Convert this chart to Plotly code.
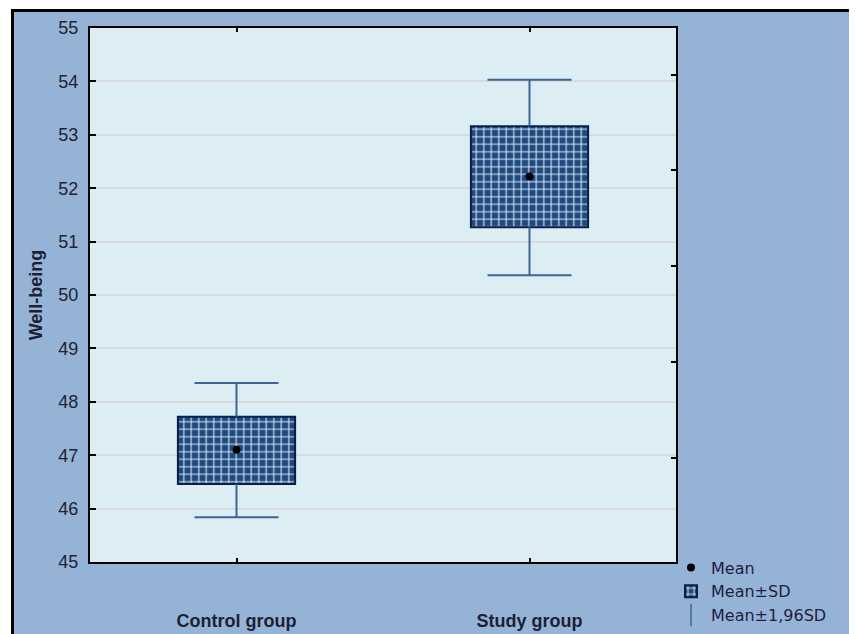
import plotly.graph_objects as go

# ---- data ----
groups = ["Control group", "Study group"]
mean_vals = [47.10, 52.22]
sd_low = [46.46, 51.27]
sd_high = [47.72, 53.16]
ci_low = [45.84, 50.37]
ci_high = [48.35, 54.03]
y_ticks = [45, 46, 47, 48, 49, 50, 51, 52, 53, 54, 55]
right_ticks = [1, 2, 3, 4, 5]

# ---- layout geometry (pixels); page body has an 8px margin ----
OFF = 8
W, H = 857 - OFF, 634 - OFF
L, T = 90 - OFF, 28 - OFF
R = W - (676 - OFF)
B = H - (562.5 - OFF)
PW, PH = W - L - R, H - T - B


def px(x):
    """reference-image x pixel -> paper coordinate"""
    return (x - OFF - L) / PW


def py(y):
    """reference-image y pixel -> paper coordinate"""
    return (H - B - (y - OFF)) / PH


FONT = "Liberation Sans, Arial, sans-serif"
LFONT = "DejaVu Sans, Verdana, sans-serif"
NAVY = "#1E4A80"
WHISK = "#3D6496"

fig = go.Figure()

# Mean ± SD boxes
fig.add_trace(go.Bar(
    x=groups,
    base=sd_low,
    y=[h - l for h, l in zip(sd_high, sd_low)],
    width=0.4,
    name="Mean±SD",
    legendrank=2,
    marker=dict(
        color=NAVY,
        line=dict(color="#0B1F4A", width=2),
        pattern=dict(shape="+", fgcolor="#E4EEF8", bgcolor=NAVY,
                     size=7.5, solidity=0.26, fillmode="replace"),
    ),
    hoverinfo="skip",
))

# whisker stems
wx, wy = [], []
for g, sh, ch, sl, cl in zip(groups, sd_high, ci_high, sd_low, ci_low):
    wx += [g, g, None, g, g, None]
    wy += [sh, ch, None, sl, cl, None]
fig.add_trace(go.Scatter(
    x=wx, y=wy, mode="lines",
    line=dict(color=WHISK, width=2),
    showlegend=False, hoverinfo="skip",
))

# whisker caps
fig.add_trace(go.Scatter(
    x=groups + groups, y=ci_high + ci_low, mode="markers",
    marker=dict(symbol="line-ew", size=60, color=WHISK,
                line=dict(color=WHISK, width=2)),
    showlegend=False, hoverinfo="skip",
))

# legend entry for whiskers (also brings in the right-hand tick axis)
fig.add_trace(go.Scatter(
    x=[None], y=[None], mode="markers", yaxis="y2",
    name="Mean±1,96SD", legendrank=3,
    marker=dict(symbol="line-ns", size=16, color=WHISK,
                line=dict(color=WHISK, width=1.5)),
))

# means
fig.add_trace(go.Scatter(
    x=groups, y=mean_vals, mode="markers",
    name="Mean", legendrank=1,
    marker=dict(symbol="circle", size=8, color="black"),
))

shapes = [
    dict(type="rect", xref="paper", yref="paper",
         x0=px(0), x1=px(11), y0=py(-5), y1=py(660),
         fillcolor="white", line=dict(width=0), layer="above"),
    dict(type="rect", xref="paper", yref="paper",
         x0=px(0), x1=px(865), y0=py(0), y1=py(9),
         fillcolor="white", line=dict(width=0), layer="above"),
    dict(type="rect", xref="paper", yref="paper",
         x0=px(854.5), x1=px(865), y0=py(-5), y1=py(660),
         fillcolor="white", line=dict(width=0), layer="above"),
    dict(type="rect", xref="paper", yref="paper",
         x0=px(12.5), x1=px(853), y0=py(10.5), y1=py(660),
         fillcolor="rgba(0,0,0,0)", line=dict(color="black", width=3),
         layer="above"),
]

fig.update_layout(
    width=W, height=H,
    margin=dict(l=L, r=R, t=T, b=B, autoexpand=False),
    paper_bgcolor="#95B3D7",
    plot_bgcolor="#DCEDF3",
    font=dict(family=FONT, size=16, color="#1E1E34"),
    shapes=shapes,
    showlegend=True,
    legend=dict(
        x=px(671), y=py(551), xanchor="left", yanchor="top",
        bgcolor="rgba(0,0,0,0)", borderwidth=0,
        font=dict(family=LFONT, size=16, color="#1E1E3C"),
        traceorder="normal",
    ),
    xaxis=dict(
        type="category", range=[-0.5, 1.5],
        showline=True, linecolor="black", linewidth=2, mirror="ticks",
        ticks="inside", ticklen=4, tickwidth=1.5, tickcolor="black",
        showgrid=False, zeroline=False,
        tickfont=dict(family=FONT, size=18, color="#1E1E34", weight="bold"),
        ticklabelstandoff=41,
    ),
    yaxis=dict(
        range=[45, 55], tickvals=y_ticks,
        showline=True, linecolor="black", linewidth=2, mirror=True,
        ticks="inside", ticklen=6, tickwidth=2, tickcolor="black",
        showgrid=True, gridcolor="#D7D9DA", gridwidth=2, zeroline=False,
        tickfont=dict(family=FONT, size=18, color="#22222E"),
        ticklabelstandoff=6,
        title=dict(text="Well-being", standoff=11,
                   font=dict(family=FONT, size=18, color="#1E1E34", weight="bold")),
    ),
    yaxis2=dict(
        overlaying="y", side="right", anchor="x",
        range=[-0.089, 5.488], tickvals=right_ticks,
        ticks="inside", ticklen=5, tickwidth=2, tickcolor="black",
        showticklabels=False, showgrid=False, zeroline=False, showline=False,
    ),
)

fig.write_html("out.html")
